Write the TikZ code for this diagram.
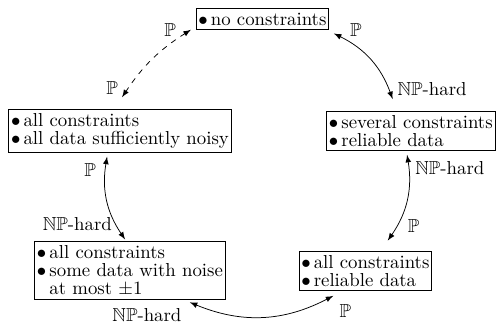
\documentclass[tikz,border=0pt]{standalone}
\usepackage{amsmath}
\usepackage{amssymb}
\usepackage{tikz}
\usetikzlibrary{arrows.meta, positioning}

\tikzstyle{case}  = [rectangle, draw, align=left, inner xsep=1.2pt, inner ysep=2.2pt,
                     font=\fontsize{10}{9.6}\selectfont]
\tikzstyle{link}  = [<->, >=latex]
\tikzstyle{lbl}   = [inner sep=0pt, font=\normalsize]

\newcommand{\Pc}{$\mathbb{P}$}
\newcommand{\NPh}{$\mathbb{NP}$-hard}
\newcommand{\itm}{$\bullet$\,}

\begin{document}
\begin{tikzpicture}

  \useasboundingbox (0,0) rectangle (9.28,-6.11);

  %% Cases
  \node[case] (none) at (4.909,-0.355) {\itm no constraints};
  \node[case] (noisy) at (2.244,-2.450)
        {\itm all constraints\\\itm all data sufficiently noisy};
  \node[case] (several) at (7.686,-2.450)
        {\itm several constraints\\\itm reliable data};
  \node[case] (pm1) at (2.431,-5.058)
        {\itm all constraints\\\itm some data with noise\\\phantom{\itm}at most $\pm1$};
  \node[case] (reliable) at (6.835,-5.068)
        {\itm all constraints\\\itm reliable data};

  %% Arrows
  \draw[link, dashed] ([xshift=-0.09cm]none.south west) to[bend right=12]
        node[lbl, at start, xshift=-11pt, yshift=0pt]{\Pc}
        node[lbl, at end, xshift=-5.3pt, yshift=4.8pt]{\Pc}
        ([shift={(0.04,0.22)}]noisy.north);
  \draw[link] ([shift={(0.09,-0.07)}]none.south east) to[bend left=22]
        node[lbl, at start, xshift=11.7pt, yshift=2pt]{\Pc}
        node[lbl, at end, xshift=21pt, yshift=5.3pt]{\NPh}
        ([shift={(-0.34,0.22)}]several.north);
  \draw[link] ([shift={(-0.24,-0.07)}]noisy.south) to[bend right=22]
        node[lbl, at start, xshift=-9pt, yshift=-6.9pt]{\Pc}
        node[lbl, at end, xshift=-25.4pt, yshift=8pt]{\NPh}
        ([shift={(-0.09,0.02)}]pm1.north);
  \draw[link] ([shift={(-0.07,-0.07)}]several.south) to[bend left=22]
        node[lbl, at start, xshift=22.8pt, yshift=-6.9pt]{\NPh}
        node[lbl, at end, xshift=13.8pt, yshift=8pt]{\Pc}
        ([shift={(0.42,0.19)}]reliable.north);
  \draw[link] ([shift={(1.12,-0.04)}]pm1.south) to[bend right=25]
        node[lbl, at start, xshift=-22.8pt, yshift=-6.9pt]{\NPh}
        node[lbl, at end, xshift=6.4pt, yshift=-8pt]{\Pc}
        ([shift={(-0.6,-0.09)}]reliable.south);

\end{tikzpicture}
\end{document}
